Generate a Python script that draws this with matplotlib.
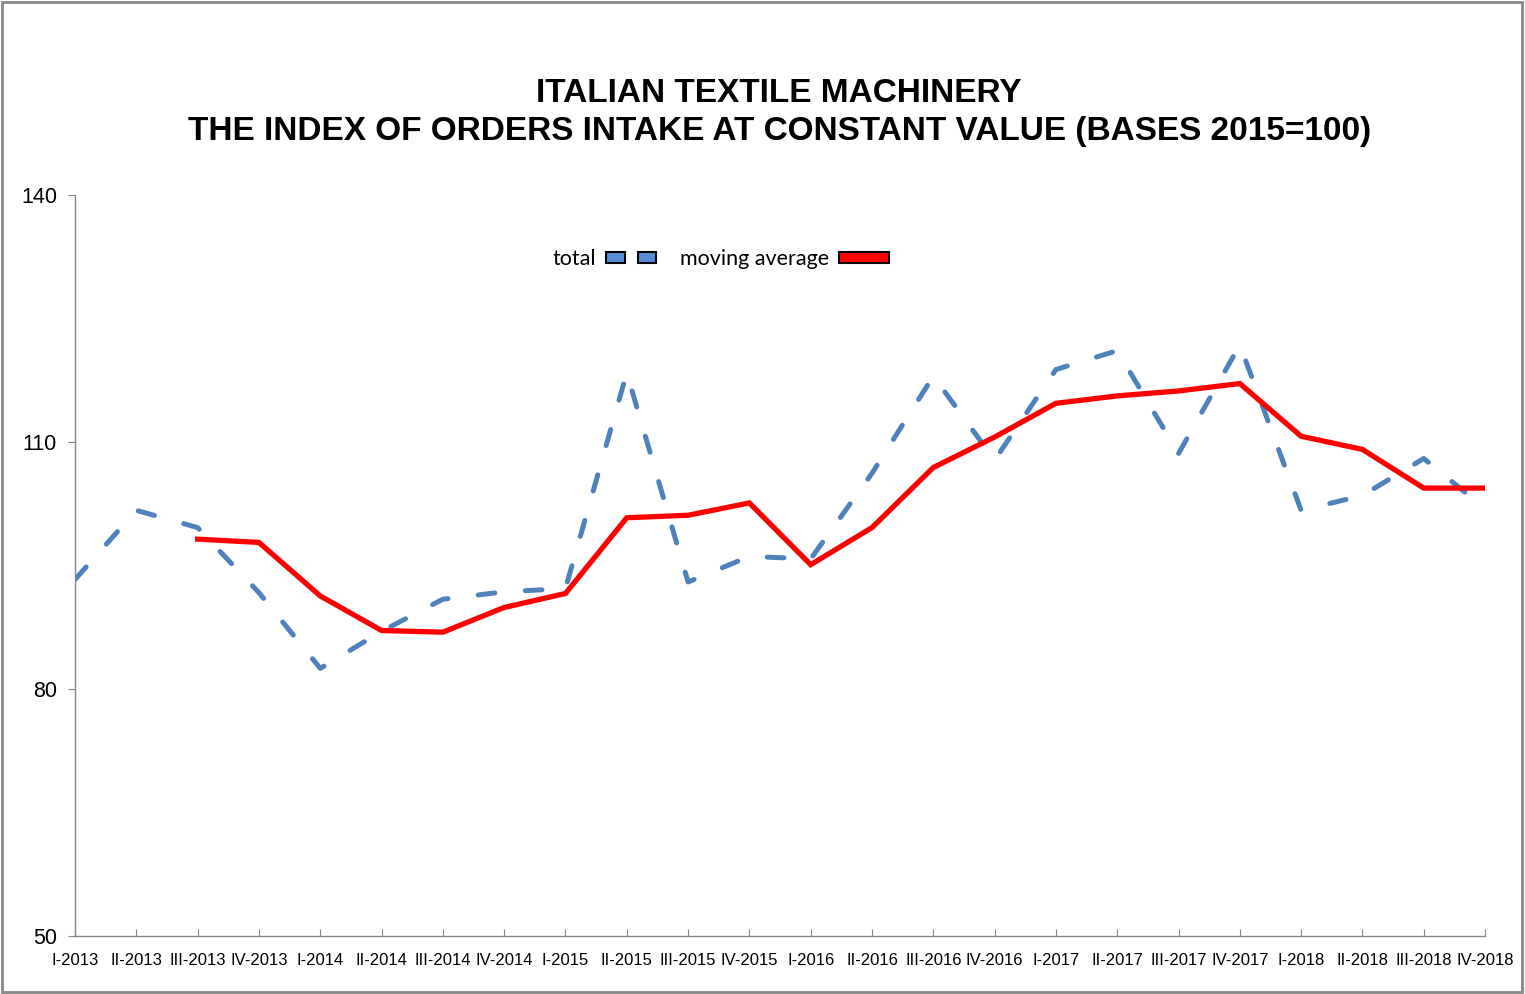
import matplotlib
matplotlib.use("Agg")
import matplotlib.pyplot as plt
from matplotlib import font_manager
from matplotlib.patches import Patch, Rectangle
from matplotlib.legend_handler import HandlerTuple
import numpy as np

plt.rcParams['lines.scale_dashes'] = False

# quarters on the x axis
quarters = ["I-2013", "II-2013", "III-2013", "IV-2013",
            "I-2014", "II-2014", "III-2014", "IV-2014",
            "I-2015", "II-2015", "III-2015", "IV-2015",
            "I-2016", "II-2016", "III-2016", "IV-2016",
            "I-2017", "II-2017", "III-2017", "IV-2017",
            "I-2018", "II-2018", "III-2018", "IV-2018"]

# index values
total = [93.3, 101.7, 99.6, 91.7, 82.5, 87.0, 90.9, 91.8,
         92.2, 118.4, 93.0, 96.1, 95.8, 106.2, 118.0, 107.8,
         118.8, 121.1, 108.6, 121.8, 101.7, 103.5, 108.0, 101.9]
moving_avg = [np.nan, np.nan, 98.2, 97.8, 91.3, 87.1, 86.9, 89.9,
              91.6, 100.8, 101.1, 102.6, 95.1, 99.6, 106.9, 110.6,
              114.7, 115.6, 116.2, 117.1, 110.7, 109.1, 104.4, 104.4]

yticks = [50, 80, 110, 140]

blue = '#4F81BD'
red = '#FF0000'
grey = '#868686'

# narrow font for the quarter labels if there is one
names = {f.name for f in font_manager.fontManager.ttflist}
narrow = None
for n in ['Liberation Sans Narrow', 'Arial Narrow']:
    if n in names:
        narrow = n
        break

fig = plt.figure(figsize=(15.25, 9.94), dpi=100)
ax = fig.add_axes([0.0492, 0.0584, 0.9246, 0.7454])

x = np.arange(len(quarters))
ax.plot(x, total, color=blue, lw=3.6, dashes=(12, 22),
        dash_capstyle='round', solid_joinstyle='round')
ax.plot(x, moving_avg, color=red, lw=3.8, solid_joinstyle='miter')

ax.set_xlim(0, len(quarters) - 1)
ax.set_ylim(50, 140)
ax.set_yticks(yticks)
ax.set_xticks(x)
if narrow:
    ax.set_xticklabels(quarters, family=[narrow, 'DejaVu Sans'], fontsize=13.5)
else:
    ax.set_xticklabels(quarters, family=['Liberation Sans', 'DejaVu Sans'], fontsize=12)
for lab in ax.get_yticklabels():
    lab.set_family(['Liberation Sans', 'DejaVu Sans'])
    lab.set_fontsize(15.5)

for s in ['top', 'right']:
    ax.spines[s].set_visible(False)
for s in ['left', 'bottom']:
    ax.spines[s].set_color(grey)
    ax.spines[s].set_linewidth(1)
ax.tick_params(axis='y', direction='out', length=5, color=grey, pad=8)
ax.tick_params(axis='x', direction='in', length=5, color=grey, pad=12)

fig.text(0.511, 0.8865,
         "ITALIAN TEXTILE MACHINERY\nTHE INDEX OF ORDERS INTAKE AT CONSTANT VALUE (BASES 2015=100)",
         ha='center', va='center', fontsize=24, fontweight='bold',
         family=['Liberation Sans', 'DejaVu Sans'], linespacing=1.29)

# legend boxes like the Excel original
box_t1 = Patch(facecolor='#558ED5', edgecolor='black', lw=1.5)
box_t2 = Patch(facecolor='#558ED5', edgecolor='black', lw=1.5)
box_a = Patch(facecolor=red, edgecolor='black', lw=1.5)
fig.legend([(box_t1, box_t2), box_a], ["total", "moving average"], ncol=2,
           loc='center', bbox_to_anchor=(0.4725, 0.739), frameon=False,
           markerfirst=False, handlelength=2.3, handleheight=0.4,
           columnspacing=1.1, handletextpad=0.5,
           handler_map={tuple: HandlerTuple(ndivide=None, pad=0.6)},
           prop={'family': ['Lato', 'DejaVu Sans'], 'size': 15.5})

fig.patches.append(Rectangle((0.001, 0.002), 0.997, 0.996, transform=fig.transFigure,
                             fill=False, ec='#898989', lw=2))

fig.savefig("out.png", dpi=100)
